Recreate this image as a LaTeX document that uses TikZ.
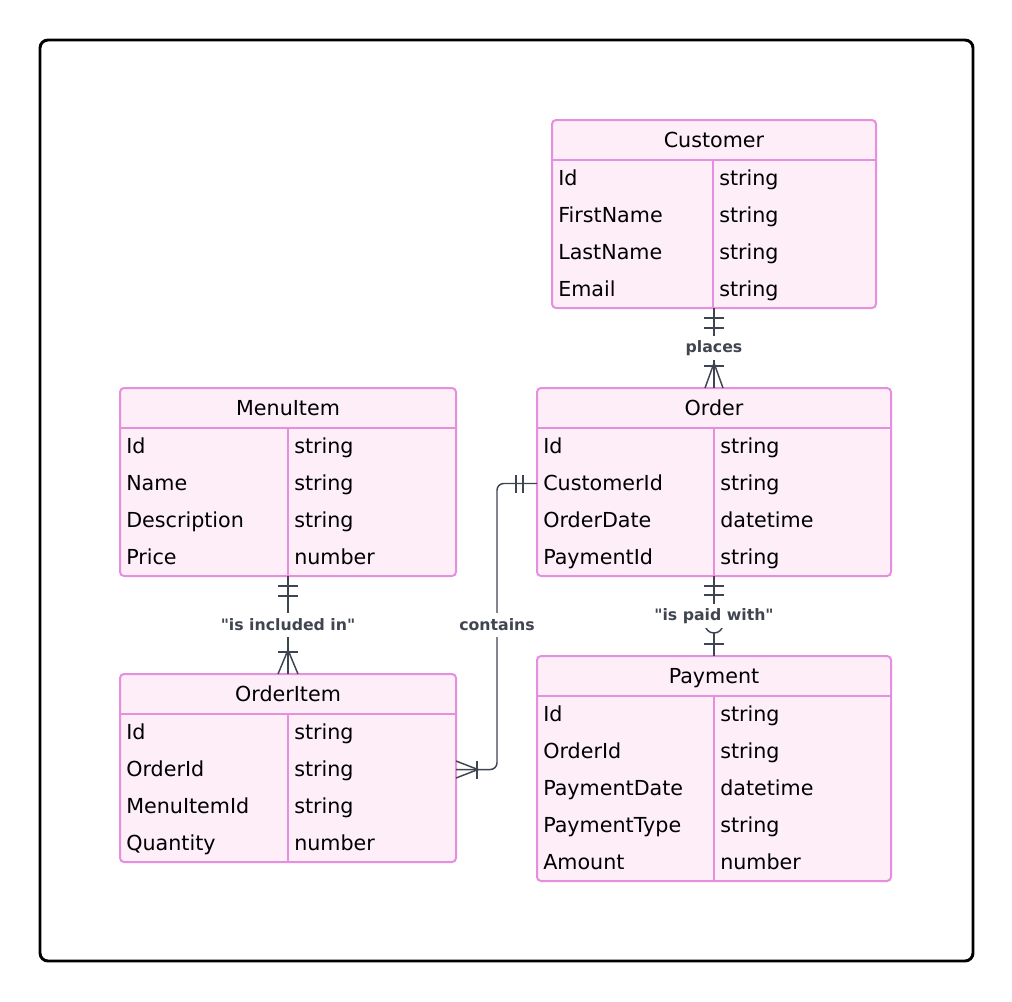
\documentclass[tikz,border=0pt]{standalone}
\usepackage{fontspec}
\setmainfont{DejaVu Sans}
\usetikzlibrary{calc}
\definecolor{entfill}{HTML}{FDEEF8}
\definecolor{entdraw}{HTML}{E58FDE}
\definecolor{relcol}{HTML}{3F4452}
\definecolor{lblcol}{HTML}{40454F}
\tikzset{
  entbox/.style={draw=entdraw, fill=entfill, line width=1.5pt, rounded corners=3pt, inner sep=0pt, outer sep=0pt},
  entline/.style={draw=entdraw, line width=1.5pt},
  enttitle/.style={anchor=base, inner sep=0pt, font=\fontsize{15.5}{18}\selectfont, text=black},
  entattr/.style={anchor=base west, inner sep=0pt, font=\fontsize{15.5}{18}\selectfont, text=black},
  rel/.style={draw=relcol, line width=1.1pt},
  rellbl/.style={fill=white, text=lblcol, font=\bfseries\fontsize{11.8}{14}\selectfont, inner xsep=2pt, inner ysep=0pt, minimum height=18pt},
  frame/.style={draw=black, line width=2.2pt, rounded corners=6pt}
}
% #1 name, #2 left, #3 top, #4 right, #5 bottom, #6 column x, #7 title, #8 rows
\newcommand\erent[8]{%
  \pgfmathsetmacro\ew{(#4-#2)*0.75}%
  \pgfmathsetmacro\eh{(#5-#3)*0.75}%
  \node[entbox, minimum width=\ew pt, minimum height=\eh pt] (#1) at ({(#2+#4)/2},{(#3+#5)/2}) {};
  \draw[entline] (#2,#3+40) -- (#4,#3+40);
  \draw[entline] (#6,#3+40) -- (#6,#5);
  \node[enttitle] (#1-t) at ({(#2+#4)/2},#3+27) {#7};
  \foreach \ka/\kb [count=\ki] in {#8} {
    \node[entattr] (#1-a\ki) at (#2+6, #3+40+37*\ki-18.5+7) {\ka};
    \node[entattr] (#1-b\ki) at (#6+6, #3+40+37*\ki-18.5+7) {\kb};
    \coordinate (#1-w\ki) at (#2, #3+40+37*\ki-18.5);
    \coordinate (#1-e\ki) at (#4, #3+40+37*\ki-18.5);
  }
}
\begin{document}
\begin{tikzpicture}[x=0.75pt, y=-0.75pt]
\useasboundingbox (0,0) rectangle (1012,1001);
\draw[frame] (40,40) rectangle (973,961);

\erent{cust}{552}{120}{876}{308}{713}{Customer}{Id/string, FirstName/string, LastName/string, Email/string}
\erent{ord}{537}{388}{891}{576}{714}{Order}{Id/string, CustomerId/string, OrderDate/datetime, PaymentId/string}
\erent{menu}{120}{388}{456}{576}{288}{MenuItem}{Id/string, Name/string, Description/string, Price/number}
\erent{oitem}{120}{674}{456}{862}{288}{OrderItem}{Id/string, OrderId/string, MenuItemId/string, Quantity/number}
\erent{pay}{537}{656}{891}{881}{714}{Payment}{Id/string, OrderId/string, PaymentDate/datetime, PaymentType/string, Amount/number}

% places: Customer ||--|{ Order
\draw[rel] (cust.south) -- (ord.north);
\draw[rel] ($(cust.south)+(-10,10)$) -- +(20,0);
\draw[rel] ($(cust.south)+(-10,20)$) -- +(20,0);
\draw[rel] ($(ord.north)+(-9,0)$) -- ($(ord.north)+(0,-25)$) -- ($(ord.north)+(9,0)$);
\draw[rel] ($(ord.north)+(-10,-22)$) -- +(20,0);
\node[rellbl] (l-places) at ($(cust.south)!0.5!(ord.north)$) {places};

% is paid with: Order ||--o| Payment
\draw[rel] (ord.south) -- (pay.north);
\draw[rel] ($(ord.south)+(-10,10)$) -- +(20,0);
\draw[rel] ($(ord.south)+(-10,19)$) -- +(20,0);
\draw[rel] ($(pay.north)+(-10,-12)$) -- +(20,0);
\draw[rel, fill=white] ($(pay.north)+(0,-32)$) circle[radius=6.75pt];
\node[rellbl] (l-paid) at ($(ord.south)!0.5!(pay.north)$) {\textquotedbl is paid with\textquotedbl};

% is included in: MenuItem ||--|{ OrderItem
\draw[rel] (menu.south) -- (oitem.north);
\draw[rel] ($(menu.south)+(-10,10)$) -- +(20,0);
\draw[rel] ($(menu.south)+(-10,20)$) -- +(20,0);
\draw[rel] ($(oitem.north)+(-10,0)$) -- ($(oitem.north)+(0,-24)$) -- ($(oitem.north)+(10,0)$);
\draw[rel] ($(oitem.north)+(-10,-22)$) -- +(20,0);
\node[rellbl] (l-incl) at ($(menu.south)!0.5!(oitem.north)$) {\textquotedbl is included in\textquotedbl};

% contains: Order ||--|{ OrderItem
\coordinate (cbend) at ($(ord-w2)+(-40,0)$);
\draw[rel, rounded corners=5pt] (ord-w2) -- (cbend) |- (oitem-e2);
\draw[rel] ($(ord-w2)+(-14,-9)$) -- +(0,18);
\draw[rel] ($(ord-w2)+(-21,-9)$) -- +(0,18);
\draw[rel] ($(oitem-e2)+(0,-8.5)$) -- ($(oitem-e2)+(22,0)$) -- ($(oitem-e2)+(0,8.5)$);
\draw[rel] ($(oitem-e2)+(21,-9)$) -- +(0,18);
\node[rellbl] (l-contains) at (cbend |- l-incl) {contains};
\end{tikzpicture}
\end{document}
